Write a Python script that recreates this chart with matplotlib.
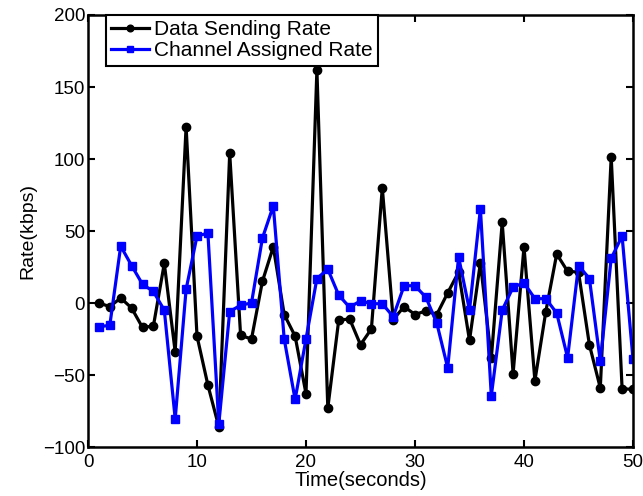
import matplotlib
matplotlib.use("Agg")
import matplotlib.pyplot as plt

# time in seconds
t = list(range(1, 51))

# Data Sending Rate (kbps)
send_rate = [0, -2.5, 3.5, -3.5, -17, -16, 27.5, -34, 122.5, -23,
             -57, -86, 104, -22.5, -25, 15, 39, -8, -23, -63,
             162, -73, -12, -11, -29, -18, 80, -11.5, -2.5, -8,
             -5.5, -8, 7, 21.5, -26, 28, -38.5, 56, -49, 39,
             -54, -6, 34, 22, 21.5, -29, -59, 101.5, -59.5, -60]

# Channel Assigned Rate (kbps)
assigned_rate = [-16.5, -15.5, 39.5, 26, 13, 8, -5, -80.5, 9.5, 46.5,
                 48.5, -84, -6, -1.5, 0, 45, 67.5, -25, -67, -25,
                 17, 23.5, 5.5, -3, 1.5, -0.5, -0.5, -9.5, 12, 12,
                 4, -14, -45, 32, -5, 65.5, -64.5, -5, 11, 14,
                 3, 3, -7, -38, 26, 17, -40.5, 31, 46.5, -39]

plt.rcParams['font.family'] = ['Liberation Sans', 'DejaVu Sans']

fig = plt.figure(figsize=(6.43, 4.96), dpi=100)
ax = fig.add_axes([88/643, 1 - 447/496, 545/643, 432/496])

ax.plot(t, send_rate, color='black', marker='o', markersize=6, linewidth=2.3,
        label='Data Sending Rate')
ax.plot(t, assigned_rate, color='blue', marker='s', markersize=5.5, linewidth=2.3,
        label='Channel Assigned Rate')

ax.set_xlim(0, 50)
ax.set_ylim(-100, 200)
ax.set_xticks([0, 10, 20, 30, 40, 50])
ax.set_yticks([-100, -50, 0, 50, 100, 150, 200])
ax.set_yticklabels(['\u2212100', '\u221250', '0', '50', '100', '150', '200'])

ax.tick_params(direction='in', top=True, right=True, labelsize=13.5, width=1.5, length=5)
ax.tick_params(axis='x', pad=5)
ax.tick_params(axis='y', pad=2)
for s in ax.spines.values():
    s.set_linewidth(1.8)

ax.set_xlabel('Time(seconds)', fontsize=14.5, labelpad=0)
ax.set_ylabel('Rate(kbps)', fontsize=14, labelpad=5)

leg = ax.legend(loc='upper left', bbox_to_anchor=(0.033, 1.0), borderaxespad=0,
                fontsize=15, fancybox=False, framealpha=1, edgecolor='black',
                handlelength=1.8, handletextpad=0.25, borderpad=0.25, labelspacing=0.1,
                markerscale=0.8)
leg.get_frame().set_linewidth(1.5)

fig.savefig('out.png', dpi=100)
